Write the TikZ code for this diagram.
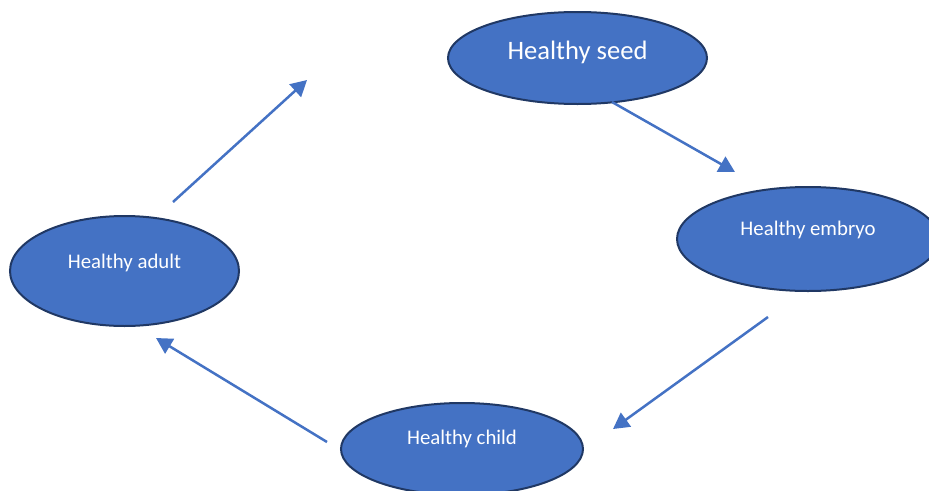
\documentclass[tikz,border=0pt]{standalone}
\usepackage{fontspec}
\setmainfont{Carlito}
\usetikzlibrary{shapes.geometric,arrows.meta}
\definecolor{stagefill}{HTML}{4472C4}
\definecolor{stageline}{HTML}{203864}
\definecolor{arrowblue}{HTML}{4472C4}
\tikzset{
  stage/.style={ellipse, draw=stageline, line width=2pt, fill=stagefill, inner sep=0pt},
  lbltext/.style={text=white, font=\fontsize{20.8}{24}\selectfont, inner sep=0pt},
  bigtext/.style={text=white, font=\fontsize{26.6}{30}\selectfont, inner sep=0pt},
  flow/.style={draw=arrowblue, line width=2.5pt, -{Triangle[length=16pt,width=17pt]}}
}
\begin{document}
\begin{tikzpicture}[x=1pt,y=-1pt]
\useasboundingbox (0,0) rectangle (929,490);
\node[stage, minimum width=259pt, minimum height=92pt,
      label={[bigtext, yshift=6pt]center:Healthy seed}] (seed) at (577.5,58) {};
\node[stage, minimum width=262pt, minimum height=104pt,
      label={[lbltext, yshift=9pt]center:Healthy embryo}] (embryo) at (808,239) {};
\node[stage, minimum width=229pt, minimum height=110pt,
      label={[lbltext, yshift=8pt]center:Healthy adult}] (adult) at (124.5,271) {};
\node[stage, minimum width=242pt, minimum height=92pt,
      label={[lbltext, yshift=10pt]center:Healthy child}] (child) at (462,449) {};
\coordinate (a1s) at (612,102);
\coordinate (a1e) at (735,172);
\coordinate (a2s) at (768,317);
\coordinate (a2e) at (613,429);
\coordinate (a3s) at (327,442);
\coordinate (a3e) at (156,338);
\coordinate (a4s) at (173,202);
\coordinate (a4e) at (307,80);
\draw[flow] (a1s) -- (a1e);
\draw[flow] (a2s) -- (a2e);
\draw[flow] (a3s) -- (a3e);
\draw[flow] (a4s) -- (a4e);
\end{tikzpicture}
\end{document}
